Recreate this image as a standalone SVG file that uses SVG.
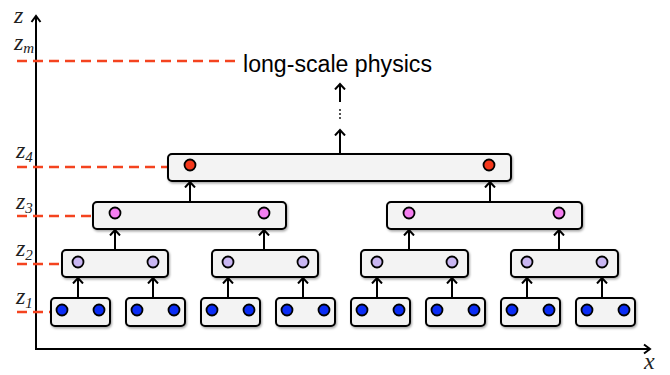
<svg xmlns="http://www.w3.org/2000/svg" width="670" height="375" viewBox="0 0 670 375">
<defs>
<style>
.box{fill:#f3f3f3;stroke:#000;stroke-width:2;filter:url(#sh)}
.dot{stroke:#000;stroke-width:1.8}
.d1{fill:#0a2cf5}.d2{fill:#c9b6f2}.d3{fill:#f47ef0}.d4{fill:#f5381c}
.lvl{stroke:#f4431f;stroke-width:2.5;stroke-dasharray:10,6;fill:none}
.ar{stroke:#000;stroke-width:2;fill:none;marker-end:url(#ah)}
.ax{stroke:#000;stroke-width:2;fill:none;marker-end:url(#ah2)}
.zl{font-family:"Liberation Serif",serif;font-style:italic;font-size:24px;fill:#222}
.zs{font-family:"Liberation Serif",serif;font-size:15px;fill:#222}
</style>
<filter id="sh" x="-10%" y="-30%" width="120%" height="160%">
<feDropShadow dx="1" dy="1.5" stdDeviation="1.2" flood-color="#000" flood-opacity="0.35"/>
</filter>
<marker id="ah" markerUnits="userSpaceOnUse" markerWidth="12" markerHeight="12" viewBox="-6 -6 12 12" refX="0" refY="0" orient="auto">
<path d="M-5.5,-5 L0,0 L-5.5,5" stroke="#000" stroke-width="2" fill="none"/>
</marker>
<marker id="ah2" markerUnits="userSpaceOnUse" markerWidth="14" markerHeight="14" viewBox="-7 -7 14 14" refX="0" refY="0" orient="auto">
<path d="M-6,-4.5 L0,0 L-6,4.5" stroke="#000" stroke-width="2" fill="none"/>
</marker>
</defs>
<rect width="670" height="375" fill="#fff"/>

<g id="axes">
<path class="ax" d="M36,350 L36,16"/>
<path class="ax" d="M36,349 L650,349"/>
<text class="zl" x="14" y="23">z</text>
<text class="zl" x="644" y="369">x</text>
</g>

<g id="levels">
<path class="lvl" d="M17,61 L235,61"/>
<path class="lvl" d="M17,167 L168,167"/>
<path class="lvl" d="M17,216 L93,216"/>
<path class="lvl" d="M17,264 L62,264"/>
<path class="lvl" d="M17,312 L51,312"/>
<text class="zl" x="14" y="50">z<tspan class="zs" font-style="italic" dy="3">m</tspan></text>
<text class="zl" x="16" y="158">z<tspan class="zs" dy="4">4</tspan></text>
<text class="zl" x="16" y="209">z<tspan class="zs" dy="4">3</tspan></text>
<text class="zl" x="16" y="256">z<tspan class="zs" dy="4">2</tspan></text>
<text class="zl" x="16" y="304">z<tspan class="zs" dy="4">1</tspan></text>
</g>

<g id="label">
<text x="243" y="72" font-family="Liberation Sans, Arial, sans-serif" font-size="23" fill="#000" textLength="189" lengthAdjust="spacingAndGlyphs">long-scale physics</text>
</g>

<g id="connectors">
<path class="ar" d="M78,298 L78,278"/>
<path class="ar" d="M153,298 L153,278"/>
<path class="ar" d="M228,298 L228,278"/>
<path class="ar" d="M303,298 L303,278"/>
<path class="ar" d="M377,298 L377,278"/>
<path class="ar" d="M452,298 L452,278"/>
<path class="ar" d="M527,298 L527,278"/>
<path class="ar" d="M602,298 L602,278"/>
<path class="ar" d="M115,250 L115,230"/>
<path class="ar" d="M264,250 L264,230"/>
<path class="ar" d="M409,250 L409,230"/>
<path class="ar" d="M559,250 L559,230"/>
<path class="ar" d="M190,202 L190,182"/>
<path class="ar" d="M490,202 L490,182"/>
<path class="ar" d="M340,153 L340,130"/>
<path class="ar" d="M340,102 L340,84"/>
<g fill="#000">
<circle cx="340" cy="110" r="0.9"/>
<circle cx="340" cy="114" r="0.9"/>
<circle cx="340" cy="118" r="0.9"/>
</g>
</g>

<g id="n4">
<rect class="box" x="168" y="154" width="343" height="27" rx="4"/>
<circle class="dot d4" cx="190" cy="165" r="5.5"/>
<circle class="dot d4" cx="489" cy="165" r="5.5"/>
</g>

<g id="n3a">
<rect class="box" x="93" y="202" width="193" height="27" rx="4"/>
<circle class="dot d3" cx="115" cy="213" r="5.5"/>
<circle class="dot d3" cx="264" cy="213" r="5.5"/>
</g>
<g id="n3b">
<rect class="box" x="387" y="202" width="195" height="27" rx="4"/>
<circle class="dot d3" cx="409" cy="213" r="5.5"/>
<circle class="dot d3" cx="559" cy="213" r="5.5"/>
</g>

<g id="n2a">
<rect class="box" x="62" y="250" width="106" height="27" rx="4"/>
<circle class="dot d2" cx="78" cy="262" r="5.5"/>
<circle class="dot d2" cx="153" cy="262" r="5.5"/>
</g>
<g id="n2b">
<rect class="box" x="212" y="250" width="106" height="27" rx="4"/>
<circle class="dot d2" cx="228" cy="262" r="5.5"/>
<circle class="dot d2" cx="303" cy="262" r="5.5"/>
</g>
<g id="n2c">
<rect class="box" x="361" y="250" width="107" height="27" rx="4"/>
<circle class="dot d2" cx="377" cy="262" r="5.5"/>
<circle class="dot d2" cx="452" cy="262" r="5.5"/>
</g>
<g id="n2d">
<rect class="box" x="511" y="250" width="107" height="27" rx="4"/>
<circle class="dot d2" cx="527" cy="262" r="5.5"/>
<circle class="dot d2" cx="602" cy="262" r="5.5"/>
</g>

<g id="n1a"><rect class="box" x="51" y="298" width="59" height="28" rx="4"/><circle class="dot d1" cx="62" cy="310" r="5.5"/><circle class="dot d1" cx="99" cy="310" r="5.5"/></g>
<g id="n1b"><rect class="box" x="126" y="298" width="59" height="28" rx="4"/><circle class="dot d1" cx="137" cy="310" r="5.5"/><circle class="dot d1" cx="174" cy="310" r="5.5"/></g>
<g id="n1c"><rect class="box" x="201" y="298" width="59" height="28" rx="4"/><circle class="dot d1" cx="212" cy="310" r="5.5"/><circle class="dot d1" cx="249" cy="310" r="5.5"/></g>
<g id="n1d"><rect class="box" x="276" y="298" width="59" height="28" rx="4"/><circle class="dot d1" cx="287" cy="310" r="5.5"/><circle class="dot d1" cx="324" cy="310" r="5.5"/></g>
<g id="n1e"><rect class="box" x="351" y="298" width="59" height="28" rx="4"/><circle class="dot d1" cx="362" cy="310" r="5.5"/><circle class="dot d1" cx="399" cy="310" r="5.5"/></g>
<g id="n1f"><rect class="box" x="426" y="298" width="59" height="28" rx="4"/><circle class="dot d1" cx="437" cy="310" r="5.5"/><circle class="dot d1" cx="474" cy="310" r="5.5"/></g>
<g id="n1g"><rect class="box" x="501" y="298" width="59" height="28" rx="4"/><circle class="dot d1" cx="512" cy="310" r="5.5"/><circle class="dot d1" cx="549" cy="310" r="5.5"/></g>
<g id="n1h"><rect class="box" x="576" y="298" width="59" height="28" rx="4"/><circle class="dot d1" cx="587" cy="310" r="5.5"/><circle class="dot d1" cx="624" cy="310" r="5.5"/></g>
</svg>
